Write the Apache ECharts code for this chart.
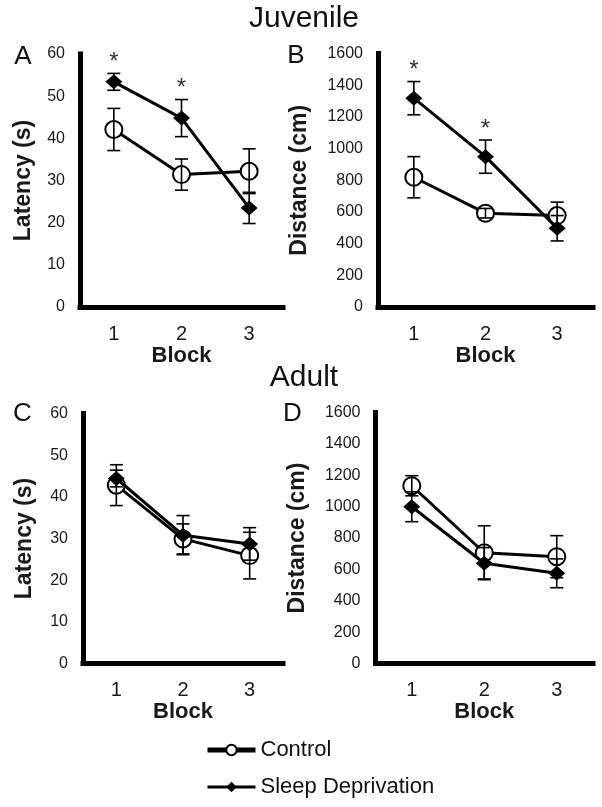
<!DOCTYPE html>
<html><head><meta charset="utf-8">
<script src="https://cdn.jsdelivr.net/npm/echarts@6/dist/echarts.min.js"></script>
<style>html,body{margin:0;padding:0;background:#fff}#c{width:602px;height:807px}</style>
</head><body><div id="c"></div>
<script>
// ---- data ----
const blocks = ['1', '2', '3'];
const seriesNames = ['Control', 'Sleep Deprivation'];

const juvLatControl = [42.1, 31.4, 32.2];
const juvLatControlErr = [5.0, 3.7, 5.3];
const juvLatSD = [53.4, 44.8, 23.5];
const juvLatSDErr = [2.0, 4.4, 3.7];
const juvLatSig = [1, 1, 0];

const juvDistControl = [819, 592, 577];
const juvDistControlErr = [130, 30, 85];
const juvDistSD = [1318, 949, 497];
const juvDistSDErr = [105, 105, 80];
const juvDistSig = [1, 1, 0];

const adLatControl = [42.8, 29.9, 25.9];
const adLatControlErr = [4.9, 3.6, 5.6];
const adLatSD = [44.4, 30.8, 28.7];
const adLatSDErr = [2.0, 4.7, 3.9];
const adLatSig = [0, 0, 0];

const adDistControl = [1133, 706, 681];
const adDistControlErr = [64, 172, 134];
const adDistSD = [999, 639, 575];
const adDistSDErr = [95, 100, 92];
const adDistSig = [0, 0, 0];

const latencyAxis = {max: 60, interval: 10, name: 'Latency (s)'};
const distanceAxis = {max: 1600, interval: 200, name: 'Distance (cm)'};

// ---- layout ----
const FONT = 'Liberation Sans, Arial, Helvetica, sans-serif';
const TXT = '#1a1a1a';
const panels = [
  {grid: {left: 80, top: 54, width: 203, height: 253}, axis: latencyAxis, nameGap: 45,
   c: juvLatControl, ce: juvLatControlErr, s: juvLatSD, se: juvLatSDErr, sig: juvLatSig},
  {grid: {left: 378, top: 53.5, width: 215, height: 253.5}, axis: distanceAxis, nameGap: 67,
   c: juvDistControl, ce: juvDistControlErr, s: juvDistSD, se: juvDistSDErr, sig: juvDistSig},
  {grid: {left: 83, top: 413.5, width: 200, height: 250}, axis: latencyAxis, nameGap: 47,
   c: adLatControl, ce: adLatControlErr, s: adLatSD, se: adLatSDErr, sig: adLatSig},
  {grid: {left: 375.5, top: 412.5, width: 217.5, height: 251}, axis: distanceAxis, nameGap: 66,
   c: adDistControl, ce: adDistControlErr, s: adDistSD, se: adDistSDErr, sig: adDistSig}
];

function errRender(params, api) {
  const x = api.value(0), lo = api.value(1), hi = api.value(2);
  const p1 = api.coord([x, hi]), p2 = api.coord([x, lo]);
  const hw = 6.5;
  const style = {stroke: '#000', lineWidth: 1.6};
  return {type: 'group', children: [
    {type: 'line', shape: {x1: p1[0], y1: p1[1], x2: p2[0], y2: p2[1]}, style},
    {type: 'line', shape: {x1: p1[0] - hw, y1: p1[1], x2: p1[0] + hw, y2: p1[1]}, style},
    {type: 'line', shape: {x1: p2[0] - hw, y1: p2[1], x2: p2[0] + hw, y2: p2[1]}, style}
  ]};
}
function starRender(params, api) {
  const p = api.coord([api.value(0), api.value(1)]);
  return {type: 'text', x: p[0], y: p[1] - 11,
    style: {text: '*', fill: '#333', font: '24px ' + FONT, align: 'center', verticalAlign: 'middle'}};
}

const grid = [], xAxis = [], yAxis = [], series = [];
panels.forEach((p, i) => {
  grid.push(Object.assign({containLabel: false}, p.grid));
  const axisLine = {show: true, lineStyle: {color: '#000', width: 5, cap: 'square'}};
  xAxis.push({type: 'category', gridIndex: i, data: blocks, boundaryGap: true,
    axisLine, axisTick: {show: false}, splitLine: {show: false},
    axisLabel: {color: TXT, fontFamily: FONT, fontSize: 20, margin: 17},
    name: 'Block', nameLocation: 'middle', nameGap: 36,
    nameTextStyle: {color: TXT, fontFamily: FONT, fontSize: 22, fontWeight: 'bold'}});
  yAxis.push({type: 'value', gridIndex: i, min: 0, max: p.axis.max, interval: p.axis.interval,
    axisLine, axisTick: {show: false}, splitLine: {show: false},
    axisLabel: {color: TXT, fontFamily: FONT, fontSize: 16, margin: 15, formatter: v => String(v)},
    name: p.axis.name, nameLocation: 'middle', nameGap: p.nameGap, nameRotate: 90,
    nameTextStyle: {color: TXT, fontFamily: FONT, fontSize: 23, fontWeight: 'bold'}});
  series.push({name: 'Control', type: 'line', xAxisIndex: i, yAxisIndex: i, data: p.c,
    symbol: 'emptyCircle', symbolSize: 17, z: 3,
    itemStyle: {color: '#000', borderColor: '#000', borderWidth: 3},
    lineStyle: {color: '#000', width: 3}, emphasis: {disabled: true}, animation: false});
  series.push({name: 'Sleep Deprivation', type: 'line', xAxisIndex: i, yAxisIndex: i, data: p.s,
    symbol: 'diamond', symbolSize: [17, 15], z: 4,
    itemStyle: {color: '#000'}, lineStyle: {color: '#000', width: 3},
    emphasis: {disabled: true}, animation: false});
  series.push({name: 'errC' + i, type: 'custom', xAxisIndex: i, yAxisIndex: i, z: 5,
    renderItem: errRender, encode: {x: 0, y: [1, 2]}, animation: false, silent: true,
    data: p.c.map((v, k) => [k, v - p.ce[k], v + p.ce[k]])});
  series.push({name: 'errS' + i, type: 'custom', xAxisIndex: i, yAxisIndex: i, z: 5,
    renderItem: errRender, encode: {x: 0, y: [1, 2]}, animation: false, silent: true,
    data: p.s.map((v, k) => [k, v - p.se[k], v + p.se[k]])});
  const stars = [];
  p.sig.forEach((f, k) => { if (f) stars.push([k, p.s[k] + p.se[k]]); });
  series.push({name: 'sig' + i, type: 'custom', xAxisIndex: i, yAxisIndex: i, z: 6,
    renderItem: starRender, encode: {x: 0, y: 1}, animation: false, silent: true, data: stars});
});

function label(text, x, y, size, weight) {
  return {type: 'text', x, y, silent: true,
    style: {text, fill: '#111', font: (weight || 'normal') + ' ' + size + 'px ' + FONT,
      align: 'center', verticalAlign: 'middle'}};
}

const option = {
  backgroundColor: '#fff',
  animation: false,
  grid, xAxis, yAxis, series,
  legend: {orient: 'vertical', left: 205, top: 739, padding: 0,
    itemWidth: 48, itemHeight: 13, itemGap: 15,
    data: [
      {name: seriesNames[0], lineStyle: {width: 5}, itemStyle: {borderWidth: 3}},
      {name: seriesNames[1], lineStyle: {width: 3}}
    ],
    textStyle: {color: '#111', fontFamily: FONT, fontSize: 22}, selectedMode: false},
  graphic: [
    label('Juvenile', 304, 19, 30),
    label('Adult', 304, 378, 30),
    label('A', 23, 57, 26),
    label('B', 296, 56, 26),
    label('C', 22.5, 414, 26),
    label('D', 292.5, 414, 26)
  ]
};
const chart = echarts.init(document.getElementById('c'), null, {renderer: 'canvas'});
chart.setOption(option);
</script></body></html>
